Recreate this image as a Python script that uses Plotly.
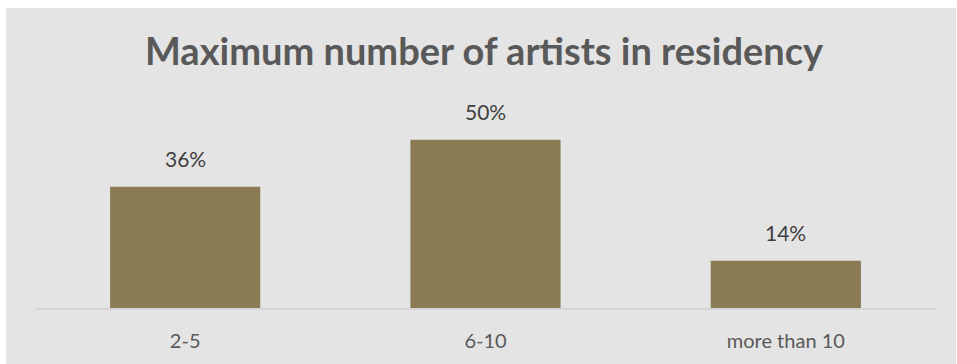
import plotly.graph_objects as go

# Chart data
categories = ["2-5", "6-10", "more than 10"]
shares = [36, 50, 14]
value_labels = [f"{v}%" for v in shares]

W, H = 957, 364
ML, MR, MT, MB = 35, 21, 106, 56
plot_w = W - ML - MR
plot_h = H - MT - MB

BAR = "#8a7b55"
BG = "#e4e4e4"

fig = go.Figure(
    go.Bar(
        x=categories,
        y=shares,
        marker=dict(color=BAR, line=dict(width=0)),
        hoverinfo="skip",
    )
)

# Percent labels above each bar
for cat, v, lab in zip(categories, shares, value_labels):
    fig.add_annotation(
        x=cat, y=v, text=lab, showarrow=False,
        yanchor="bottom", yshift=14,
        font=dict(family="Lato", size=21, color="#404040"),
    )

# Gray chart panel with a thin white edge at top/left/right
def px_x(p):
    return (p - ML) / plot_w

def px_y(p):
    return (H - MB - p) / plot_h

fig.add_shape(
    type="rect", xref="paper", yref="paper", layer="below",
    x0=px_x(6), x1=px_x(956), y0=px_y(H + 5), y1=px_y(8),
    fillcolor=BG, line=dict(width=0),
)

fig.update_layout(
    width=W, height=H,
    margin=dict(l=ML, r=MR, t=MT, b=MB, pad=0),
    paper_bgcolor="white",
    plot_bgcolor=BG,
    bargap=0.5,
    showlegend=False,
    title=dict(
        text="<b>Maximum number of artists in residency</b>",
        xref="container", yref="container",
        x=484 / W, y=1 - 52 / H, xanchor="center", yanchor="middle",
        font=dict(family="Lato", size=38, color="#595959"),
    ),
    xaxis=dict(
        range=[-0.5, 2.5],
        showline=True, linecolor="#d6d6d6", linewidth=1.5,
        showgrid=False, zeroline=False, ticks="",
        ticklabelstandoff=14,
        tickfont=dict(family="Lato", size=20, color="#595959"),
        fixedrange=True,
    ),
    yaxis=dict(
        range=[0, 60], visible=False, fixedrange=True,
    ),
)

fig.write_html("out.html")
